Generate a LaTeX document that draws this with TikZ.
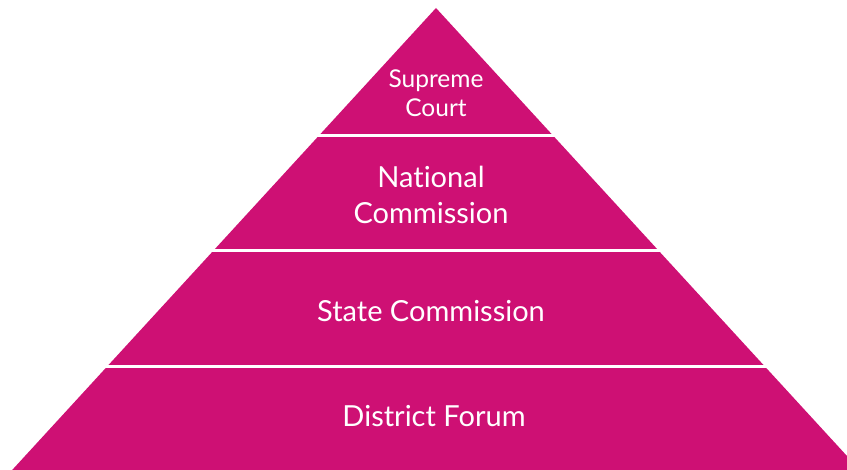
\documentclass[tikz,border=0pt]{standalone}
\usepackage{fontspec}
\setmainfont{Lato}[Ligatures={NoCommon,NoRare,NoContextual}]
\definecolor{pyr}{RGB}{206,16,116}
\begin{document}
\begin{tikzpicture}[x=1pt,y=-1pt,
  sepline/.style={draw=white,line width=3pt},
  lab/.style={text=white,align=center,inner sep=0pt,font=\fontsize{29}{36}\selectfont},
  smalllab/.style={lab,font=\fontsize{24.5}{29}\selectfont}]
\useasboundingbox (0,0) rectangle (847,470);
\begin{scope}
\clip (0,0) rectangle (847,470);
\fill[pyr] (436,8) -- (869,480) -- (3,480) -- cycle;
\end{scope}
\coordinate (s1l) at (316,136); \coordinate (s1r) at (556,136);
\coordinate (s2l) at (211,251); \coordinate (s2r) at (661,251);
\coordinate (s3l) at (105,367); \coordinate (s3r) at (767,367);
\draw[sepline] (s1l) -- (s1r);
\draw[sepline] (s2l) -- (s2r);
\draw[sepline] (s3l) -- (s3r);
\node[smalllab] (sc) at (436,93) {Supreme\\Court};
\node[lab] (nc) at (431,195) {National\\Commission};
\node[lab] (stc) at (431,311) {State Commission};
\node[lab] (df) at (434,416) {District Forum};
\end{tikzpicture}
\end{document}
